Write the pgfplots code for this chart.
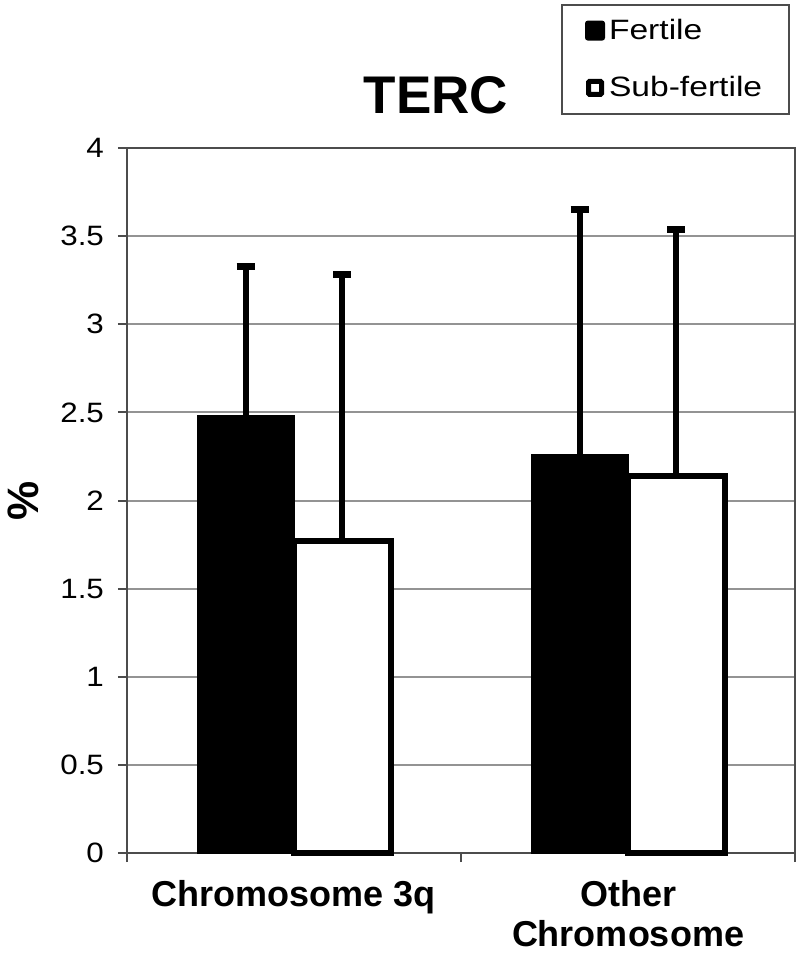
\documentclass[border=0pt]{standalone}
\usepackage{fontspec}
\setmainfont{Liberation Sans}
\newfontfamily\widefont[FakeStretch=1.12]{Liberation Sans}
\newfontfamily\legfont[FakeStretch=1.2]{Liberation Sans}
\usepackage{pgfplots}
\pgfplotsset{compat=1.18}

\begin{document}
\begin{tikzpicture}
\begin{axis}[
    scale only axis,
    width=334pt, height=352.5pt,
    ybar=0pt, bar width=0.29,
    xmin=-0.5, xmax=1.5, ymin=0, ymax=4,
    enlargelimits=false,
    clip=false,
    xtick={0,1},
    xticklabels={Chromosome 3q, {Other\\Chromosome}},
    minor xtick={-0.5,0.5,1.5},
    ytick={0,0.5,...,4},
    tick pos=left,
    ymajorgrids,
    grid style={gray!85, line width=1pt},
    tick align=outside,
    major tick length=4.5pt, minor tick length=4.5pt,
    major x tick style={draw=none},
    tick style={gray!60!black, line width=1pt},
    axis line style={gray!60!black, line width=1pt},
    xticklabel style={font=\bfseries\fontsize{18}{20}\selectfont, align=center, yshift=-5.5pt},
    yticklabel style={font=\widefont\fontsize{14}{16}\selectfont, xshift=-3.5pt},
    /pgf/number format/assume math mode=true,
    ylabel={\%},
    ylabel style={font=\bfseries\fontsize{22}{24}\selectfont, at={(rel axis cs:-0.1557,0.5)}, anchor=center},
    legend cell align=left,
    legend style={at={(rel axis cs:0.6497,1.2043)}, anchor=north west,
        draw=gray!60!black, line width=1pt, inner xsep=11.5pt, inner ysep=5pt,
        row sep=13pt, font=\legfont\fontsize{14}{16}\selectfont},
]
\addplot[fill=black, draw=black,
    legend image code/.code={\fill[black, rounded corners=1pt] (0pt,-4.5pt) rectangle (9pt,4.5pt);},
    error bars/.cd, y dir=plus, y explicit, error mark=|,
    error bar style={black, line width=3pt},
    error mark options={black, line width=3.5pt, mark size=4.5pt}]
    coordinates {(0,2.48) +- (0,0.85) (1,2.26) +- (0,1.39)};
\addlegendentry{Fertile}
\addplot[fill=white, draw=black, line width=3pt,
    legend image code/.code={\filldraw[fill=white, draw=black, line width=2.5pt, rounded corners=0.5pt] (1.25pt,-3.25pt) rectangle (7.75pt,3.25pt);},
    error bars/.cd, y dir=plus, y explicit, error mark=|,
    error bar style={black, line width=3pt},
    error mark options={black, line width=3.5pt, mark size=4.5pt}]
    coordinates {(0,1.77) +- (0,1.51) (1,2.14) +- (0,1.40)};
\addlegendentry{Sub-fertile}
\node[font=\bfseries\fontsize{26.5}{28}\selectfont, anchor=base] at (rel axis cs:0.4626,1.0496) {TERC};
\path (rel axis cs:-0.1901,1.2099) (rel axis cs:1.006,-0.1489);
\end{axis}
\end{tikzpicture}
\end{document}
